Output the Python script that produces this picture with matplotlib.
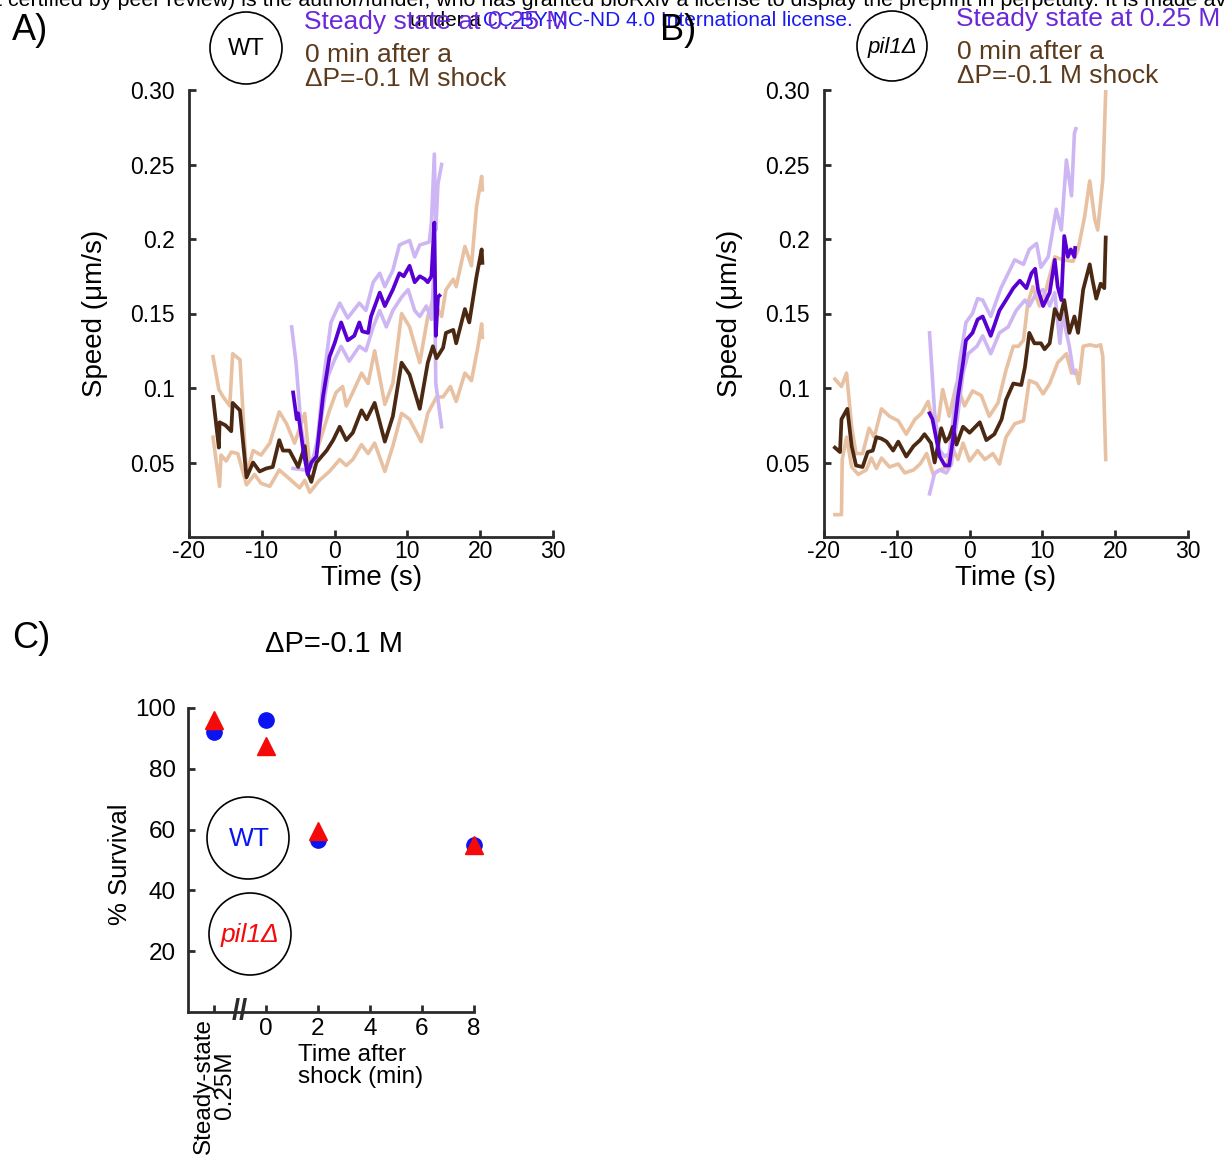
import numpy as np
import matplotlib.pyplot as plt
from matplotlib.patches import Circle

plt.rcParams['font.family'] = ['Liberation Sans', 'DejaVu Sans']
plt.rcParams['axes.unicode_minus'] = False

# ---- data: columns are (time s, speed um/s) ----
# panel A, WT
a_shock_mean = np.array([
    (-16.7, .094), (-15.9, .060), (-15.8, .077), (-15.0, .075), (-14.2, .071), (-14.0, .090),
    (-13.0, .085), (-12.1, .040), (-11.2, .050), (-10.3, .044), (-9.4, .046), (-8.5, .047),
    (-7.6, .065), (-7.1, .058), (-6.2, .058), (-5.0, .047), (-4.1, .061), (-3.7, .043),
    (-3.2, .037), (-2.5, .050), (-1.1, .058), (-0.2, .065), (0.7, .074), (1.6, .065),
    (2.5, .070), (3.7, .085), (4.4, .079), (5.5, .090), (6.9, .064), (8.0, .081),
    (9.2, .117), (10.3, .109), (11.7, .086), (12.8, .117), (13.5, .128), (14.0, .120),
    (14.9, .127), (15.3, .137), (16.3, .139), (16.7, .130), (17.9, .153), (18.5, .144),
    (19.5, .175), (20.2, .193), (20.3, .184)])
a_shock_hi = np.array([
    (-16.7, .121), (-15.9, .099), (-15.3, .094), (-14.4, .088), (-14.0, .123), (-13.0, .119),
    (-12.1, .042), (-11.2, .058), (-10.1, .055), (-8.9, .063), (-7.6, .084), (-6.6, .076),
    (-5.5, .063), (-4.1, .083), (-3.4, .047), (-2.1, .063), (-0.7, .085), (0.2, .097),
    (1.1, .101), (1.6, .088), (2.5, .097), (3.7, .110), (4.6, .103), (5.5, .125),
    (6.9, .089), (8.0, .103), (9.2, .150), (10.3, .141), (11.7, .117), (12.8, .148),
    (13.5, .159), (14.7, .148), (15.3, .166), (16.3, .173), (16.7, .168), (17.9, .195),
    (18.8, .182), (19.5, .222), (20.2, .242), (20.3, .233)])
a_shock_lo = np.array([
    (-16.7, .067), (-15.8, .034), (-15.6, .055), (-14.9, .051), (-14.2, .057), (-13.3, .056),
    (-12.1, .035), (-11.0, .042), (-10.1, .036), (-8.9, .034), (-7.6, .045), (-6.2, .039),
    (-4.8, .033), (-4.1, .038), (-3.4, .030), (-2.1, .038), (-0.7, .044), (0.7, .052),
    (1.6, .048), (2.5, .052), (3.7, .062), (4.6, .056), (5.5, .063), (6.9, .044),
    (8.0, .061), (9.2, .083), (10.3, .079), (11.9, .064), (12.8, .083), (14.0, .094),
    (14.9, .094), (15.9, .101), (16.7, .091), (17.9, .110), (18.8, .105), (19.7, .128),
    (20.2, .143), (20.3, .134)])
a_steady_mean = np.array([
    (-5.7, .097), (-5.2, .079), (-5.0, .083), (-4.3, .058), (-3.7, .042), (-3.2, .050),
    (-2.5, .054), (-1.6, .094), (-0.7, .121), (0.0, .130), (0.9, .144), (1.8, .132),
    (2.7, .135), (3.4, .144), (3.8, .138), (4.6, .137), (5.0, .148), (6.2, .164),
    (6.9, .155), (8.0, .166), (8.9, .177), (9.5, .175), (10.3, .182), (11.0, .171),
    (11.7, .175), (12.4, .173), (12.8, .171), (13.3, .175), (13.7, .211), (13.9, .135),
    (14.2, .161), (14.4, .162)])
a_steady_hi = np.array([
    (-5.9, .141), (-5.3, .117), (-4.6, .074), (-3.8, .050), (-3.2, .050), (-2.5, .058),
    (-1.6, .103), (-0.5, .144), (0.7, .157), (1.8, .147), (3.4, .157), (4.3, .152),
    (5.3, .171), (6.2, .177), (6.9, .168), (8.0, .179), (8.9, .196), (10.3, .199),
    (11.0, .188), (11.7, .196), (13.0, .198), (13.3, .211), (13.7, .257), (13.9, .206),
    (14.2, .237), (14.7, .250)])
a_steady_lo = np.array([
    (-5.7, .046), (-4.1, .045), (-3.2, .047), (-2.1, .071), (-0.9, .108), (0.0, .119),
    (0.9, .128), (2.0, .118), (3.4, .128), (4.3, .125), (5.3, .141), (6.2, .152),
    (7.1, .141), (8.0, .152), (9.2, .161), (10.1, .166), (11.0, .152), (11.7, .148),
    (12.6, .155), (13.3, .146), (13.7, .184), (13.9, .103), (14.7, .074)])

# panel B, pil1 delta
b_shock_mean = np.array([
    (-18.5, .060), (-17.8, .057), (-17.6, .079), (-16.8, .086), (-16.2, .061), (-15.6, .048),
    (-14.7, .047), (-14.0, .057), (-13.3, .058), (-12.8, .067), (-12.1, .066), (-11.4, .064),
    (-10.5, .058), (-9.8, .064), (-8.7, .054), (-7.7, .061), (-6.8, .065), (-6.2, .069),
    (-5.3, .063), (-4.8, .050), (-3.9, .073), (-3.3, .064), (-2.8, .067), (-2.3, .074),
    (-1.8, .062), (-0.9, .074), (0.0, .070), (1.4, .077), (2.3, .065), (3.4, .069),
    (4.4, .079), (5.0, .092), (6.0, .103), (7.1, .102), (7.6, .114), (8.2, .137),
    (8.9, .130), (9.8, .130), (10.3, .126), (11.0, .130), (11.7, .153), (12.4, .146),
    (13.0, .159), (13.7, .137), (14.4, .148), (14.9, .137), (15.6, .166), (16.5, .183),
    (16.9, .172), (17.4, .160), (18.0, .170), (18.5, .167), (18.7, .201)])
b_shock_hi = np.array([
    (-18.5, .106), (-17.6, .101), (-16.9, .110), (-16.2, .074), (-15.6, .056), (-14.7, .056),
    (-13.8, .073), (-13.1, .067), (-12.1, .086), (-11.0, .081), (-9.8, .078), (-8.7, .069),
    (-7.5, .079), (-6.6, .083), (-5.7, .091), (-5.3, .083), (-4.3, .078), (-3.7, .099),
    (-2.8, .081), (-1.8, .103), (-0.7, .088), (0.4, .098), (1.6, .095), (2.7, .081),
    (3.9, .090), (5.0, .112), (6.0, .128), (6.7, .128), (7.4, .132), (8.0, .157),
    (8.7, .168), (9.6, .155), (10.5, .166), (11.7, .188), (12.8, .186), (14.2, .185),
    (14.9, .193), (15.8, .215), (16.5, .239), (17.2, .213), (17.6, .206), (18.3, .240),
    (18.7, .300)])
b_shock_lo = np.array([
    (-18.5, .015), (-17.6, .015), (-17.5, .052), (-16.9, .067), (-16.2, .047), (-15.3, .042),
    (-14.2, .045), (-13.5, .053), (-12.8, .046), (-12.1, .053), (-11.0, .047), (-9.8, .049),
    (-8.9, .043), (-7.7, .045), (-6.8, .049), (-5.9, .056), (-5.0, .042), (-4.1, .045),
    (-3.2, .047), (-2.5, .061), (-1.6, .052), (-0.9, .063), (0.0, .051), (1.1, .058),
    (2.1, .052), (3.2, .056), (4.1, .049), (5.0, .067), (6.2, .076), (7.4, .078),
    (8.2, .105), (9.2, .103), (10.1, .096), (11.0, .103), (12.1, .117), (13.3, .123),
    (14.0, .110), (14.6, .112), (15.0, .103), (15.6, .128), (16.5, .129), (17.4, .128),
    (18.0, .129), (18.3, .121), (18.7, .052)])
b_steady_mean = np.array([
    (-5.5, .083), (-5.1, .079), (-4.7, .069), (-4.1, .054), (-3.4, .048), (-2.8, .048),
    (-2.3, .065), (-1.6, .094), (-0.9, .117), (-0.5, .132), (0.4, .137), (1.1, .146),
    (1.8, .148), (2.9, .135), (4.1, .152), (5.0, .159), (6.0, .167), (6.9, .172),
    (7.8, .167), (8.5, .177), (9.0, .180), (9.4, .166), (10.1, .155), (11.0, .164),
    (11.7, .186), (12.1, .168), (12.6, .159), (13.0, .202), (13.5, .188), (13.9, .193),
    (14.4, .188), (14.5, .194)])
b_steady_hi = np.array([
    (-5.5, .137), (-4.8, .083), (-4.1, .058), (-3.4, .054), (-2.8, .056), (-2.1, .086),
    (-1.4, .117), (-0.5, .144), (0.4, .150), (1.1, .160), (1.8, .159), (2.9, .148),
    (4.3, .167), (5.5, .179), (6.2, .186), (7.4, .183), (8.2, .193), (9.2, .197),
    (9.8, .181), (10.8, .188), (11.9, .220), (12.6, .206), (13.3, .253), (14.0, .229),
    (14.4, .271), (14.6, .274)])
b_steady_lo = np.array([
    (-5.5, .029), (-4.8, .043), (-4.1, .045), (-3.2, .043), (-2.5, .049), (-1.6, .083),
    (-0.9, .110), (-0.2, .123), (1.0, .128), (1.8, .135), (2.9, .123), (4.1, .137),
    (5.3, .141), (6.4, .152), (7.6, .159), (8.2, .155), (9.2, .164), (10.1, .166),
    (11.0, .155), (11.7, .164), (12.4, .130), (12.8, .150), (13.3, .137), (13.7, .128),
    (14.2, .112), (14.4, .110)])

# panel C, survival
c_x = [-2, 0, 2, 8]
c_wt = [92, 96, 56.5, 55]
c_pil1 = [96, 87.5, 59.5, 55]
c_xticks = [-2, 0, 2, 4, 6, 8]
c_xticklabels = ['Steady-state\n0.25M', '0', '2', '4', '6', '8']

speed_ticks = [0.05, 0.1, 0.15, 0.2, 0.25, 0.30]
speed_labels = ['0.05', '0.1', '0.15', '0.2', '0.25', '0.30']
time_ticks = [-20, -10, 0, 10, 20, 30]

BROWN = '#4b2812'
TAN = '#e8c0a2'
PURPLE = '#5800d4'
LILAC = '#cdb6f3'
SPINE = '#2b2b2b'

W, H = 1227, 1160
fig = plt.figure(figsize=(W / 100, H / 100), dpi=100)


def px_rect(x0, y0, x1, y1):
    return [x0 / W, 1 - y1 / H, (x1 - x0) / W, (y1 - y0) / H]


def style(ax, size, ypad, xpad):
    for s in ['top', 'right']:
        ax.spines[s].set_visible(False)
    for s in ['left', 'bottom']:
        ax.spines[s].set_linewidth(2)
        ax.spines[s].set_color(SPINE)
    ax.tick_params(direction='in', length=5, width=2, color=SPINE, labelsize=size)
    ax.tick_params(axis='y', pad=ypad)
    ax.tick_params(axis='x', pad=xpad)


def speed_panel(ax, shock_mean, shock_hi, shock_lo, st_mean, st_hi, st_lo):
    for d in (shock_hi, shock_lo):
        ax.plot(d[:, 0], d[:, 1], color=TAN, lw=2.6)
    for d in (st_hi, st_lo):
        ax.plot(d[:, 0], d[:, 1], color=LILAC, lw=2.6)
    ax.plot(shock_mean[:, 0], shock_mean[:, 1], color=BROWN, lw=2.7)
    ax.plot(st_mean[:, 0], st_mean[:, 1], color=PURPLE, lw=2.7)
    ax.set_xlim(-20, 30)
    ax.set_ylim(0, 0.30)
    ax.set_xticks(time_ticks)
    ax.set_yticks(speed_ticks)
    ax.set_yticklabels(speed_labels)
    style(ax, 16.5, 10, 2)


axA = fig.add_axes(px_rect(189, 90, 553, 537))
speed_panel(axA, a_shock_mean, a_shock_hi, a_shock_lo, a_steady_mean, a_steady_hi, a_steady_lo)
axB = fig.add_axes(px_rect(824, 90, 1188, 537))
speed_panel(axB, b_shock_mean, b_shock_hi, b_shock_lo, b_steady_mean, b_steady_hi, b_steady_lo)

axC = fig.add_axes(px_rect(188, 708, 474, 1012))
axC.plot(c_x, c_wt, 'o', color='#0a14f0', ms=11, ls='none', clip_on=False)
axC.plot(c_x, c_pil1, '^', color='#f50a0a', ms=13, ls='none', clip_on=False)
axC.set_xlim(-3, 8)
axC.set_ylim(0, 100)
axC.set_yticks([20, 40, 60, 80, 100])
axC.set_xticks(c_xticks)
axC.set_xticklabels(c_xticklabels)
style(axC, 17.5, 9, 4)
lab0 = axC.get_xticklabels()[0]
lab0.set_rotation(90)
lab0.set_multialignment('center')
lab0.set_linespacing(0.95)
axC.text(-1, 0, '//', ha='center', va='center', fontsize=21, color=SPINE,
         fontweight='bold', clip_on=False)

# overlay in pixel coordinates for panel letters, keys and labels
ov = fig.add_axes([0, 0, 1, 1])
ov.set_xlim(0, W)
ov.set_ylim(H, 0)
ov.axis('off')

ov.text(-4, 1, 't certified by peer review) is the author/funder, who has granted bioRxiv '
        'a license to display the preprint in perpetuity. It is made available',
        fontsize=15.4, va='center', ha='left', color='black')
ov.text(410, 21, 'under a', fontsize=15, va='center', ha='left', color='black')
ov.text(483, 21, 'CC-BY-NC-ND 4.0 International license.', fontsize=15, va='center',
        ha='left', color='#1a1af0')

for letter, x, y in [('A)', 12, 31), ('B)', 660, 31), ('C)', 12, 638)]:
    ov.text(x, y, letter, fontsize=26, va='center', ha='left')

# strain keys for the speed panels
ov.add_patch(Circle((246, 48), 36, fill=False, lw=1.2, ec='black'))
ov.text(246, 49, 'WT', fontsize=17, ha='center', va='center')
ov.add_patch(Circle((892, 46), 35, fill=False, lw=1.2, ec='black'))
ov.text(892, 47, 'pil1Δ', fontsize=16, ha='center', va='center', style='italic')

for x0, y0 in [(304, 22), (956, 19)]:
    ov.text(x0, y0, 'Steady state at 0.25 M', fontsize=19, color='#6a28d8', va='center')
    ov.text(x0 + 1, y0 + 33, '0 min after a', fontsize=19, color='#5c3a1c', va='center')
    ov.text(x0 + 1, y0 + 57, 'ΔP=-0.1 M shock', fontsize=19, color='#5c3a1c', va='center')

for xc in (95, 730):
    ov.text(xc, 313, 'Speed (μm/s)', fontsize=20, rotation=90, ha='center', va='center')
for xc in (372, 1006):
    ov.text(xc, 578, 'Time (s)', fontsize=20, ha='center', va='center')

# panel C labels and keys
ov.text(334, 644, 'ΔP=-0.1 M', fontsize=21, ha='center', va='center')
ov.text(120, 864, '% Survival', fontsize=18.5, rotation=90, ha='center', va='center')
ov.text(298, 1066, 'Time after\nshock (min)', fontsize=17.5, ha='left', va='center',
        linespacing=0.95)
ov.add_patch(Circle((248, 838), 41, fill=False, lw=1.2, ec='black'))
ov.text(249, 839, 'WT', fontsize=19, color='#0a14f0', ha='center', va='center')
ov.add_patch(Circle((250, 934), 41, fill=False, lw=1.2, ec='black'))
ov.text(250, 935, 'pil1Δ', fontsize=19, color='#f50a0a', ha='center', va='center',
        style='italic')

fig.savefig('out.png', dpi=100)
